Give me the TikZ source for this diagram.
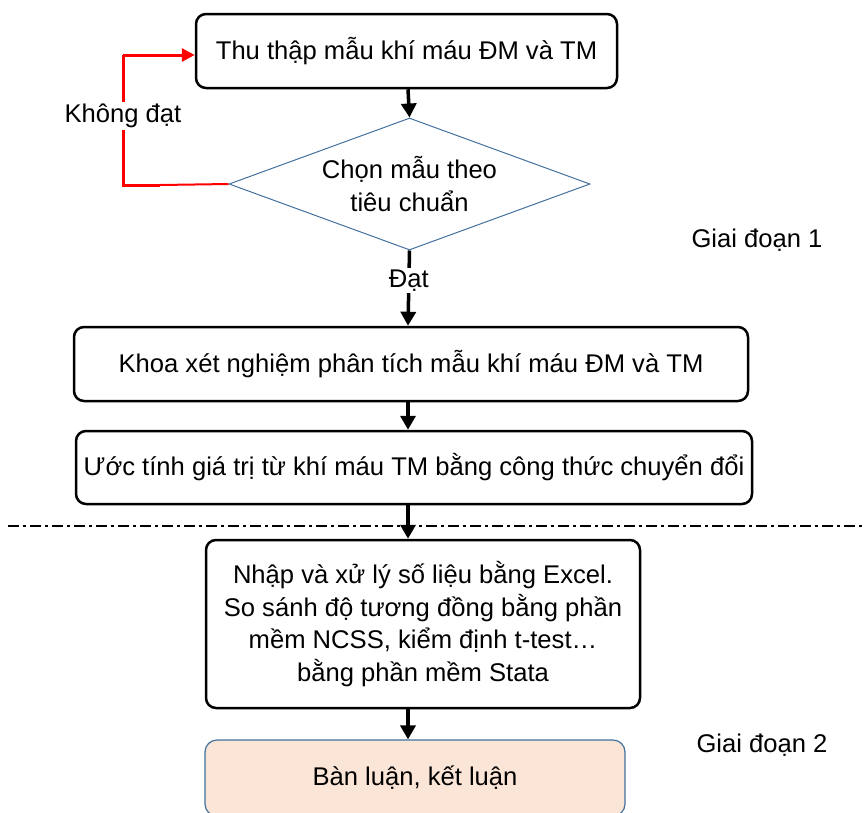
\documentclass[tikz,border=0pt]{standalone}
\usepackage{fontspec}
\setmainfont{Liberation Sans}
\usetikzlibrary{arrows.meta,shapes.geometric}
\definecolor{edgeblue}{HTML}{41719C}
\definecolor{peach}{HTML}{FBE5D6}
\begin{document}
\begin{tikzpicture}[x=1pt,y=-1pt,
  every node/.style={font=\fontsize{25.6}{32.5}\selectfont, text=black},
  procbox/.style={draw=black, line width=2.5pt, rounded corners=10pt, align=center, inner sep=0pt},
  decision/.style={diamond, draw=edgeblue, line width=1pt, inner sep=0pt, align=center,
                   minimum width=361pt, minimum height=132pt, aspect=2.73},
  flow/.style={line width=3.5pt, -{Triangle[length=14pt,width=15pt]}},
  loop/.style={red, line width=3pt},
  lbl/.style={fill=white, inner sep=2pt}]
  \useasboundingbox (0,0) rectangle (866,812);
  \clip (0,0) rectangle (866,812);

  % stage 1
  \node[procbox, minimum width=421pt, minimum height=74pt] (collect) at (406.5,51) {Thu thập mẫu khí máu ĐM và TM};
  \node[decision] (select) at (409.5,184) {Chọn mẫu theo\\tiêu chuẩn};
  \node[procbox, minimum width=674pt, minimum height=74pt] (lab) at (411,364) {Khoa xét nghiệm phân tích mẫu khí máu ĐM và TM};
  \node[procbox, minimum width=676pt, minimum height=73pt] (estimate) at (414,467.5) {Ước tính giá trị từ khí máu TM bằng công thức chuyển đổi};

  % stage 2
  \node[procbox, minimum width=434pt, minimum height=168pt] (stats) at (423,624)
    {Nhập và xử lý số liệu bằng Excel.\\So sánh độ tương đồng bằng phần\\mềm NCSS, kiểm định t-test…\\bằng phần mềm Stata};
  \node[draw=edgeblue, fill=peach, line width=1.2pt, rounded corners=12pt, inner sep=0pt,
        minimum width=420pt, minimum height=76pt] (discuss) at (415,778) {Bàn luận, kết luận};

  \node (phase1) at (757,240) {Giai đoạn 1};
  \node (phase2) at (762,745) {Giai đoạn 2};

  % stage separator
  \coordinate (sepL) at (8,526);
  \coordinate (sepR) at (866,526);
  \draw[line width=2.2pt, dash pattern=on 11pt off 4pt on 3pt off 4pt] (sepL) -- (sepR);

  % main flow
  \coordinate (axis) at (408,0);
  \draw[flow] (collect.south -| axis) -- (select.north);
  \draw[flow] (select.south) -- (lab.north -| axis) node[lbl, pos=0.4] (pass) {Đạt};
  \draw[flow] (lab.south -| axis) -- (estimate.north -| axis);
  \draw[flow] (estimate.south -| axis) -- (stats.north -| axis);
  \draw[flow] (stats.south -| axis) -- (discuss.north -| axis);

  % rejection loop
  \coordinate (loopK) at (160,185);
  \coordinate (loopB) at (123,185);
  \coordinate (loopT) at (123,55);
  \draw[red, line width=2pt] (select.west) -- (loopK);
  \draw[loop] (loopK) -- (loopB) -- (loopT)
     node[lbl, pos=0.53, text=black] (fail) {Không đạt};
  \draw[loop, -{Triangle[length=13pt,width=13pt]}] (loopT) -- (loopT -| collect.west);
\end{tikzpicture}
\end{document}
